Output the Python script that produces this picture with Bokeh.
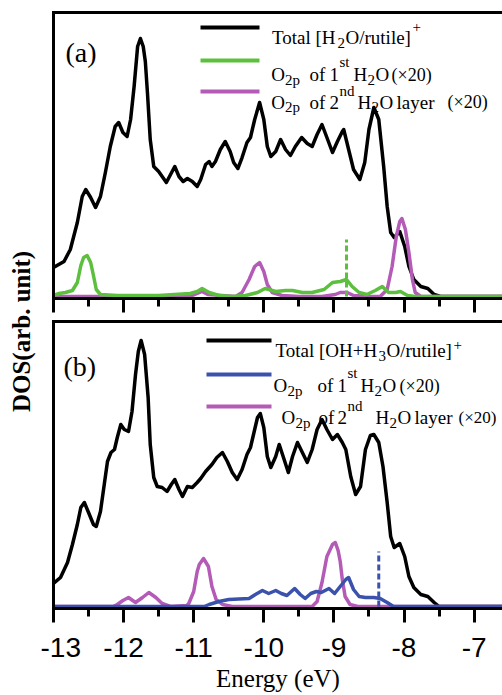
import math
from bokeh.plotting import figure
from bokeh.models import Range1d, LinearAxis, Label, FixedTicker
from bokeh.layouts import row, column
from bokeh.embed import file_html
from bokeh.resources import INLINE

# ---------------- data ----------------
energy_ticks = [-13, -12, -11, -10, -9, -8, -7]
energy_minor = [-12.5, -11.5, -10.5, -9.5, -8.5, -7.5]
tick_labels = ["-13", "-12", "-11", "-10", "-9", "-8", "-7"]

# panel (a): [H2O/rutile]+
a_total_e = [-13.00, -12.85, -12.76, -12.66, -12.59, -12.54, -12.47, -12.40, -12.33, -12.26,
             -12.19, -12.12, -12.07, -12.01, -11.95, -11.90, -11.85, -11.80, -11.76, -11.72,
             -11.69, -11.66, -11.62, -11.57, -11.50, -11.45, -11.39, -11.33, -11.27, -11.21,
             -11.15, -11.09, -11.02, -10.95, -10.90, -10.83, -10.78, -10.74, -10.69, -10.62,
             -10.55, -10.48, -10.43, -10.37, -10.31, -10.24, -10.19, -10.13, -10.06, -10.00,
             -9.95, -9.90, -9.83, -9.76, -9.69, -9.62, -9.55, -9.46, -9.38, -9.31,
             -9.24, -9.17, -9.10, -9.02, -8.95, -8.88, -8.86, -8.79, -8.72, -8.63,
             -8.56, -8.50, -8.43, -8.36, -8.29, -8.24, -8.19, -8.14, -8.06, -7.99,
             -7.93, -7.86, -7.76, -7.66, -7.57, -7.48, -6.50]
a_total_dos = [29, 35, 47, 74, 100, 107, 99, 89, 100, 124,
               150, 170, 174, 164, 160, 177, 210, 250, 258, 250,
               235, 204, 157, 130, 125, 120, 114, 122, 130, 120,
               115, 118, 115, 110, 117, 132, 135, 130, 135, 147,
               155, 145, 134, 128, 139, 154, 159, 177, 194, 177,
               150, 140, 145, 157, 147, 141, 150, 159, 153, 150,
               162, 172, 159, 144, 155, 165, 167, 147, 127, 117,
               134, 167, 189, 177, 130, 90, 64, 59, 65, 50,
               30, 17, 10, 8, 2, 0, 0]

a_o1_e = [-13.00, -12.92, -12.83, -12.73, -12.66, -12.61, -12.57, -12.52, -12.47, -12.43,
          -12.39, -12.33, -12.09, -11.50, -11.05, -10.95, -10.88, -10.78, -10.64, -10.45,
          -10.26, -10.09, -9.98, -9.83, -9.69, -9.59, -9.45, -9.31, -9.14, -9.02,
          -8.91, -8.82, -8.74, -8.64, -8.53, -8.41, -8.31, -8.22, -8.12, -8.05,
          -7.95, -7.84, -6.50]
a_o1_dos = [1, 3, 4, 6, 14, 31, 39, 41, 34, 21,
            7, 2, 1, 1, 3, 5, 8, 4, 1, 0,
            1, 4, 8, 5, 6, 6, 4, 4, 7, 14,
            15, 17, 10, 4, 2, 6, 10, 4, 4, 5,
            1, 0, 0]

a_o2_e = [-13.00, -11.05, -10.95, -10.88, -10.80, -10.40, -10.31, -10.21, -10.13, -10.06,
          -10.00, -9.95, -9.88, -9.74, -9.50, -9.17, -8.98, -8.91, -8.81, -8.72,
          -8.48, -8.34, -8.24, -8.17, -8.11, -8.06, -8.03, -7.98, -7.93, -7.88,
          -7.84, -7.76, -6.50]
a_o2_dos = [0, 0, 3, 5, 2, 0, 4, 17, 30, 34,
            25, 12, 4, 1, 0, 0, 2, 4, 4, 1,
            0, 0, 7, 30, 60, 75, 78, 67, 44, 17,
            4, 0, 0]

a_o1_mark_e = [-8.82]
a_o1_mark_h = [57]

# panel (b): [OH+H3O/rutile]+
b_total_e = [-13.00, -12.90, -12.80, -12.73, -12.66, -12.61, -12.56, -12.50, -12.43, -12.39,
             -12.33, -12.27, -12.23, -12.18, -12.13, -12.09, -12.04, -11.99, -11.93, -11.88,
             -11.83, -11.79, -11.75, -11.70, -11.65, -11.62, -11.57, -11.52, -11.45, -11.38,
             -11.32, -11.27, -11.21, -11.16, -11.09, -11.02, -10.95, -10.90, -10.83, -10.74,
             -10.67, -10.59, -10.52, -10.45, -10.38, -10.31, -10.24, -10.19, -10.14, -10.09,
             -10.05, -10.00, -9.95, -9.90, -9.83, -9.78, -9.71, -9.65, -9.59, -9.52,
             -9.45, -9.38, -9.31, -9.24, -9.17, -9.10, -9.02, -8.95, -8.88, -8.83,
             -8.76, -8.69, -8.62, -8.55, -8.48, -8.43, -8.36, -8.30, -8.24, -8.19,
             -8.14, -8.06, -7.99, -7.93, -7.86, -7.76, -7.66, -7.57, -7.50, -6.50]
b_total_dos = [23, 29, 44, 62, 82, 99, 104, 94, 82, 80,
               95, 125, 145, 154, 157, 169, 182, 177, 175, 195,
               232, 255, 266, 252, 209, 162, 129, 120, 119, 115,
               122, 127, 117, 110, 120, 119, 124, 128, 135, 142,
               149, 154, 145, 134, 127, 137, 152, 159, 174, 189,
               193, 179, 150, 139, 150, 162, 147, 134, 150, 164,
               154, 144, 157, 177, 187, 177, 167, 172, 164, 157,
               130, 112, 120, 157, 171, 172, 164, 140, 104, 70,
               59, 63, 50, 30, 19, 12, 10, 4, 0, 0]

b_o1_e = [-13.00, -10.85, -10.78, -10.64, -10.50, -10.21, -10.12, -10.02, -9.93, -9.83,
          -9.75, -9.67, -9.56, -9.48, -9.41, -9.33, -9.25, -9.18, -9.07, -8.99,
          -8.91, -8.83, -8.79, -8.72, -8.64, -8.55, -8.43, -8.34, -8.24, -8.15,
          -6.50]
b_o1_dos = [0, 0, 2, 5, 7, 8, 12, 16, 13, 16,
            13, 11, 18, 12, 8, 13, 15, 14, 18, 13,
            20, 27, 29, 17, 10, 9, 9, 8, 4, 0,
            0]

b_o2_e = [-13.00, -12.15, -12.09, -12.01, -11.93, -11.83, -11.73, -11.64, -11.54, -11.45,
          -11.33, -11.10, -11.07, -11.00, -10.95, -10.92, -10.86, -10.79, -10.74, -10.68,
          -10.59, -10.45, -9.31, -9.24, -9.17, -9.10, -9.02, -8.98, -8.94, -8.91,
          -8.88, -8.84, -8.77, -8.66, -6.50]
b_o2_dos = [0, 0, 2, 6, 9, 4, 9, 14, 9, 3,
            0, 1, 3, 15, 35, 42, 48, 40, 20, 7,
            2, 0, 0, 5, 24, 50, 62, 64, 56, 45,
            27, 10, 2, 0, 0]

b_o1_mark_e = [-8.36]
b_o1_mark_h = [55]

# ---------------- style / layout ----------------
SERIF = "Liberation Serif"
SANS = "Liberation Sans"
BLACK = "#000000"
GREEN = "#5cbf3d"
MAGENTA = "#b35bb6"
BLUE = "#3b52ad"

LABEL_W = 40
FRAME_LEFT = 53
PX_PER_EV = 70.1
X_START = -13
X_END = X_START + (502 - FRAME_LEFT) / PX_PER_EV


def ex(px):
    return X_START + (px - FRAME_LEFT) / PX_PER_EV


def ya(py):
    return 296 - py


def yb(py):
    return 606 - py


def border_axis(p, side):
    ax = LinearAxis(ticker=FixedTicker(ticks=[]), major_tick_line_color=None,
                    minor_tick_line_color=None, major_label_text_font_size="1px",
                    major_label_text_color=None, major_label_standoff=0,
                    axis_line_width=3, axis_line_cap="square")
    p.add_layout(ax, side)


def make_panel(height, top, bottom, y_end, with_labels):
    p = figure(width=502 - LABEL_W, height=height,
               x_range=Range1d(X_START, X_END), y_range=Range1d(-2, y_end),
               output_backend="svg", toolbar_location=None,
               min_border_left=FRAME_LEFT - LABEL_W, min_border_right=0,
               min_border_top=top, min_border_bottom=bottom,
               outline_line_color=None, x_axis_type=None, y_axis_type=None,
               background_fill_color="white", border_fill_color="white")
    xa = LinearAxis(ticker=FixedTicker(ticks=energy_ticks, minor_ticks=energy_minor),
                    major_label_overrides={t: s for t, s in zip(energy_ticks, tick_labels)},
                    axis_line_width=3, axis_line_cap="square",
                    major_tick_line_width=3, minor_tick_line_width=3,
                    major_tick_in=0, major_tick_out=14, minor_tick_in=0, minor_tick_out=8)
    if with_labels:
        xa.major_label_text_font = SANS
        xa.major_label_text_font_size = "28px"
        xa.major_label_text_color = BLACK
        xa.major_label_standoff = 15
        xa.axis_label = "Energy (eV)"
        xa.axis_label_text_font = SERIF
        xa.axis_label_text_font_size = "25px"
        xa.axis_label_text_font_style = "normal"
        xa.axis_label_text_color = BLACK
        xa.axis_label_standoff = 5
    else:
        xa.major_label_text_font_size = "1px"
        xa.major_label_text_color = None
        xa.major_label_standoff = 0
    p.add_layout(xa, "below")
    border_axis(p, "left")
    border_axis(p, "above")
    return p


def add_text(p, pieces, yconv, align="left"):
    for px, py, size, txt in pieces:
        p.add_layout(Label(x=ex(px), y=yconv(py), text=txt, text_font=SERIF,
                           text_font_size=f"{size}px", text_color=BLACK,
                           text_align=align, text_baseline="alphabetic"))


# ---------------- panel (a) ----------------
pa = make_panel(319, 12, 21, 284, False)
pa.line(a_total_e, a_total_dos, color=BLACK, line_width=3.5, line_join="round")
pa.line(a_o2_e, a_o2_dos, color=MAGENTA, line_width=3.5, line_join="round")
pa.line(a_o1_e, a_o1_dos, color=GREEN, line_width=3.5, line_join="round")
pa.segment(x0=a_o1_mark_e, y0=[0], x1=a_o1_mark_e, y1=a_o1_mark_h,
           color=GREEN, line_width=3, line_dash="6 3")

pa.segment(x0=[ex(200)] * 3, x1=[ex(259)] * 3, y0=[ya(27), ya(60), ya(91)],
           y1=[ya(27), ya(60), ya(91)], color=[BLACK, GREEN, MAGENTA], line_width=4)
add_text(pa, [
    (65, 52, 28, "(a)"),
    (271.5, 36.7, 19, "Total [H"), (337, 42, 15, "2"), (345, 36.7, 19, "O/rutile]"),
    (412, 26, 15, "+"),
    (270.7, 74, 19, "O"), (284.5, 79, 15, "2p"), (309, 74, 19, "of"), (329, 74, 19, "1"),
    (339, 61, 15, "st"), (353, 74, 19, "H"), (367, 79, 15, "2"), (375, 74, 19, "O"),
    (391, 74, 18, "(×20)"),
    (270.7, 101.7, 19, "O"), (284.5, 106.7, 15, "2p"), (309, 101.7, 19, "of"),
    (329, 101.7, 19, "2"), (339, 90, 15, "nd"), (357, 101.7, 19, "H"),
    (371, 106.7, 15, "2"), (379, 101.7, 19, "O"), (396, 101.7, 19, "layer"),
    (447, 101.7, 18, "(×20)"),
], ya)

# ---------------- panel (b) ----------------
pb = make_panel(376, 2, 87, 285, True)
pb.line(b_total_e, b_total_dos, color=BLACK, line_width=3.5, line_join="round")
pb.line(b_o2_e, b_o2_dos, color=MAGENTA, line_width=3.5, line_join="round")
pb.line(b_o1_e, b_o1_dos, color=BLUE, line_width=3.5, line_join="round")
pb.segment(x0=b_o1_mark_e, y0=[0], x1=b_o1_mark_e, y1=b_o1_mark_h,
           color=BLUE, line_width=3, line_dash="6 3")

pb.segment(x0=[ex(206)] * 3, x1=[ex(271)] * 3, y0=[yb(340), yb(374), yb(406)],
           y1=[yb(340), yb(374), yb(406)], color=[BLACK, BLUE, MAGENTA], line_width=4)
add_text(pb, [
    (63, 366, 28, "(b)"),
    (275, 350, 19, "Total [OH+H"), (378, 355, 15, "3"), (386, 350, 19, "O/rutile]"),
    (453, 344, 15, "+"),
    (273, 385, 19, "O"), (287, 390, 15, "2p"), (317, 385, 19, "of"), (337, 385, 19, "1"),
    (347, 372, 15, "st"), (360, 385, 19, "H"), (374, 390, 15, "2"), (382, 385, 19, "O"),
    (399, 385, 18, "(×20)"),
    (281, 417, 19, "O"), (295, 422, 15, "2p"), (318, 417, 19, "of"), (337, 417, 19, "2"),
    (347, 405, 15, "nd"), (375, 417, 19, "H"), (389, 422, 15, "2"), (397, 417, 19, "O"),
    (414, 417, 19, "layer"), (458, 417, 17, "(×20)"),
], yb)

# ---------------- y label column ----------------
lab = figure(width=LABEL_W, height=695, x_range=Range1d(0, LABEL_W), y_range=Range1d(0, 695),
             output_backend="svg", toolbar_location=None, min_border=0,
             outline_line_color=None, x_axis_type=None, y_axis_type=None)
lab.add_layout(Label(x=21, y=695 - 331, text="DOS(arb. unit)", angle=math.pi / 2,
                     text_align="center", text_baseline="middle", text_font=SERIF,
                     text_font_style="bold", text_font_size="25px", text_color=BLACK))

layout = row(lab, column(pa, pb, spacing=0), spacing=0)

with open("out.html", "w") as f:
    f.write(file_html(layout, INLINE))
